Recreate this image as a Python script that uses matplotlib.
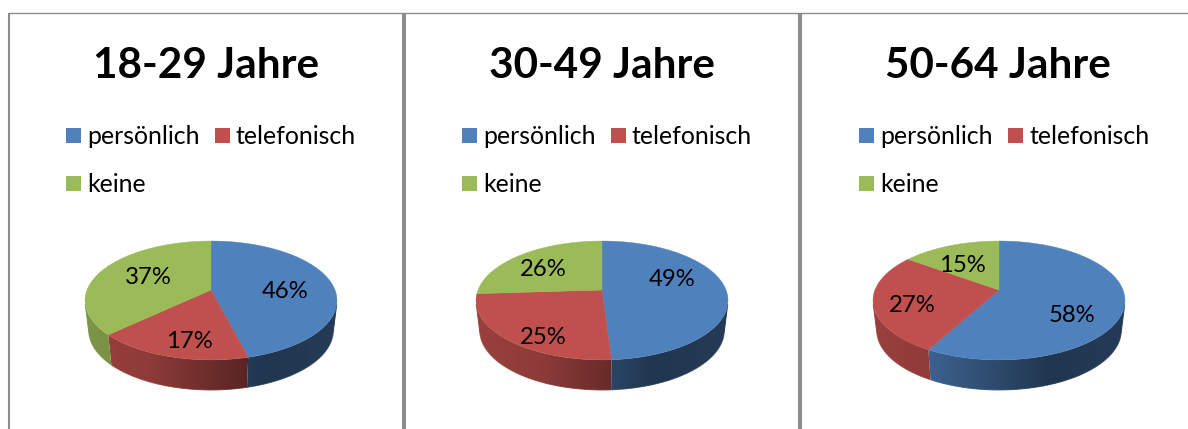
import numpy as np
import matplotlib
matplotlib.use("Agg")
import matplotlib.pyplot as plt
from matplotlib.collections import LineCollection
from matplotlib.colors import to_rgb
from matplotlib.patches import Polygon

# data
titles = ["18-29 Jahre", "30-49 Jahre", "50-64 Jahre"]
categories = ["persönlich", "telefonisch", "keine"]
values_1829 = [46, 17, 37]
values_3049 = [49, 25, 26]
values_5064 = [58, 27, 15]
all_values = [values_1829, values_3049, values_5064]
colors = ["#4F81BD", "#C0504D", "#9BBB59"]

# layout (pixels)
W, H = 1188, 429
PANEL_X = [211, 602, 999]
TITLE_X = [206, 602, 998]
LEGEND_X = [66, 462, 859]
APEX_Y = 290
LABEL_OFFSETS = [[(74, 2), (-22, 51), (-63, -13)],
                 [(70, -11), (-59, 47), (-59, -20)],
                 [(73, 26), (-87, 16), (-37, -24)]]
GRAY = "#8C8C8C"
FONT = "Lato"

fig = plt.figure(figsize=(W / 100, H / 100), dpi=100)
ax = fig.add_axes([0, 0, 1, 1])

A, B, K = 57.6, 124.0, 0.176
DEPTH, SX_B = 30.0, 0.97


def project(t):
    sx, p = np.sin(t), np.cos(t)
    d = 1 + K * p
    return B * sx / d, -A * p / d


def shade(u):
    return np.interp(u, [-1, -0.5, 0.4, 1], [0.80, 0.74, 0.42, 0.46])


# angular range where the side wall is visible: between the two silhouette tangents
grid = np.linspace(np.pi / 3, 5 * np.pi / 3, 2000)
gx, gy = project(grid)
dgx, dgy = np.gradient(gx, grid), np.gradient(gy, grid)
cross = dgx * DEPTH - dgy * (SX_B - 1) * gx
vis = grid[cross < 0]
T_R, T_L = vis.min(), vis.max()

for cx, tx, title, vals, lx, offs in zip(PANEL_X, TITLE_X, titles, all_values, LEGEND_X, LABEL_OFFSETS):
    edges = np.cumsum([0] + vals) / sum(vals) * 2 * np.pi
    # side wall: one gradient image per slice, clipped to the wall outline
    u = np.linspace(-1.05, 1.05, 300)
    for i, c in enumerate(colors):
        lo, hi = max(edges[i], T_R), min(edges[i + 1], T_L)
        if hi <= lo:
            continue
        ts = np.linspace(lo, hi, 200)
        x, y = project(ts)
        top_x, top_y = cx + x, APEX_Y + y
        bot_x, bot_y = cx + SX_B * x, APEX_Y + DEPTH + y
        outline = np.c_[np.r_[top_x, bot_x[::-1]], np.r_[top_y, bot_y[::-1]]]
        base = np.array(to_rgb(c))
        img = (shade(u)[:, None] * base)[None, :, :]
        im = ax.imshow(img, extent=[cx + u[0] * 126, cx + u[-1] * 126, 400, 240],
                       aspect="auto", interpolation="bilinear", zorder=2)
        im.set_clip_path(Polygon(outline, closed=True, transform=ax.transData))
        # smooth, antialiased rim along the lower edge and the silhouette ends
        seg_x = bot_x
        seg_y = bot_y
        if lo == T_R:
            seg_x, seg_y = np.r_[top_x[0], seg_x], np.r_[top_y[0], seg_y]
        if hi == T_L:
            seg_x, seg_y = np.r_[seg_x, top_x[-1]], np.r_[seg_y, top_y[-1]]
        pts = np.c_[seg_x, seg_y]
        segs = np.stack([pts[:-1], pts[1:]], axis=1)
        mids = (pts[:-1, 0] + pts[1:, 0]) / 2
        rim = [tuple(base * shade((m - cx) / 126)) for m in mids]
        ax.add_collection(LineCollection(segs, colors=rim, linewidths=0.7, zorder=2.5))
    # top face
    for i, c in enumerate(colors):
        ts = np.linspace(edges[i], edges[i + 1], 200)
        x, y = project(ts)
        ax.fill(np.r_[cx, cx + x], np.r_[APEX_Y, APEX_Y + y], color=c, lw=0.3, zorder=3)
    # labels
    for v, (dx, dy) in zip(vals, offs):
        ax.text(cx + dx, APEX_Y + dy, f"{v}%", ha="center", va="center", fontsize=17.2,
                family=FONT, color="black", zorder=4)
    # title
    ax.text(tx, 66.5, title, ha="center", va="center", fontsize=30.4, fontweight="bold",
            family=FONT, color="black")
    # legend
    entries = [(lx, 136), (lx + 148.5, 136), (lx, 184)]
    for c, name, (ex, ey) in zip(colors, categories, entries):
        ax.fill([ex, ex + 15, ex + 15, ex], [ey - 8, ey - 8, ey + 7, ey + 7], color=c, lw=0)
        ax.text(ex + 21.5, ey + 1, name, ha="left", va="center", fontsize=17.9, family=FONT, color="black")

# panel borders
ax.plot([9.2, 9.2], [13, H], color=GRAY, lw=1.5, solid_capstyle="butt")
ax.plot([9, W], [12.8, 12.8], color=GRAY, lw=1.0, solid_capstyle="butt")
ax.plot([404, 404], [13, H], color=GRAY, lw=2.9, solid_capstyle="butt")
ax.plot([800, 800], [13, H], color=GRAY, lw=2.9, solid_capstyle="butt")

ax.set_xlim(0, W)
ax.set_ylim(H, 0)
ax.set_aspect("auto")
ax.axis("off")

fig.savefig("out.png", dpi=100, facecolor="white")
